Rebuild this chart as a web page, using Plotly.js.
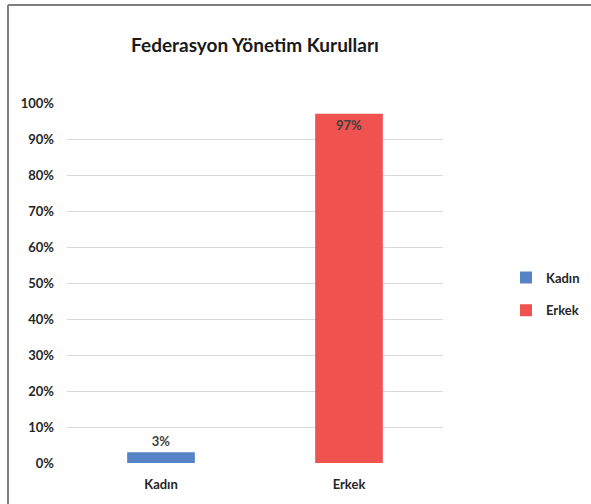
<!DOCTYPE html>
<html><head><meta charset="utf-8">
<script src="https://cdn.plot.ly/plotly-3.0.1.min.js"></script>
<style>body{margin:0;background:#fff}#c{width:591px;height:504px}</style>
</head><body><div id="c"></div>
<script>
const categories = ['Kadın', 'Erkek'];
const values = [3, 97];
const labels = ['3%', '97%'];
const colors = ['#5683c6', '#f0524f'];
const tickVals = [0,10,20,30,40,50,60,70,80,90,100];
const tickText = tickVals.map(v => v + '%');

const traces = categories.map((c, i) => ({
  type: 'bar', name: c, x: [c], y: [values[i]],
  legendgroup: c,
  marker: {color: colors[i]},
  text: [labels[i]],
  textposition: i === 0 ? 'outside' : 'inside',
  insidetextanchor: 'end',
  textfont: {family: 'Lato, sans-serif', size: 13, color: '#404040', weight: 'bold'},
  cliponaxis: false,
  hoverinfo: 'none'
}));

const layout = {
  width: 591, height: 504,
  margin: {l: 67, r: 148, t: 103, b: 41},
  paper_bgcolor: '#fff', plot_bgcolor: '#fff',
  barmode: 'overlay', bargap: 0.64,
  font: {family: 'Lato, sans-serif', color: '#262626'},
  title: {text: '<b>Federasyon Yönetim Kurulları</b>', x: 0.5, xref: 'paper', y: 1 - 45/504, yref: 'container', yanchor: 'middle',
          font: {family: 'Lato, sans-serif', size: 19, color: '#1a1a1a'}},
  xaxis: {categoryorder: 'array', categoryarray: categories, showgrid: false, showline: false, zeroline: false,
          ticks: '', ticklabelstandoff: 12,
          tickfont: {family: 'Lato, sans-serif', size: 13, color: '#262626', weight: 'bold'}},
  yaxis: {range: [0, 100], tickvals: tickVals, ticktext: tickText, showgrid: true, gridcolor: '#d9d9d9', gridwidth: 1,
          zeroline: false, showline: false, ticks: '', ticklabelstandoff: 12,
          tickfont: {family: 'Lato, sans-serif', size: 13, color: '#262626', weight: 'bold'}},
  legend: {xref: 'container', yref: 'container', x: 506/591, y: 1 - 294/504, xanchor: 'left', yanchor: 'middle',
           bgcolor: 'rgba(0,0,0,0)', traceorder: 'grouped',
           font: {family: 'Lato, sans-serif', size: 13, color: '#262626', weight: 'bold'},
           itemwidth: 30, tracegroupgap: 13},
  shapes: [
    {type: 'line', xref: 'paper', yref: 'paper', x0: (8-67)/376, x1: (620-67)/376, y0: (463-5)/360, y1: (463-5)/360,
     line: {color: '#7f7f7f', width: 2}},
    {type: 'line', xref: 'paper', yref: 'paper', x0: (8-67)/376, x1: (8-67)/376, y0: (463-5)/360, y1: (463-520)/360,
     line: {color: '#7f7f7f', width: 2}}
  ],
  showlegend: true
};
Plotly.newPlot('c', traces, layout, {displayModeBar: false, staticPlot: true});
</script></body></html>
